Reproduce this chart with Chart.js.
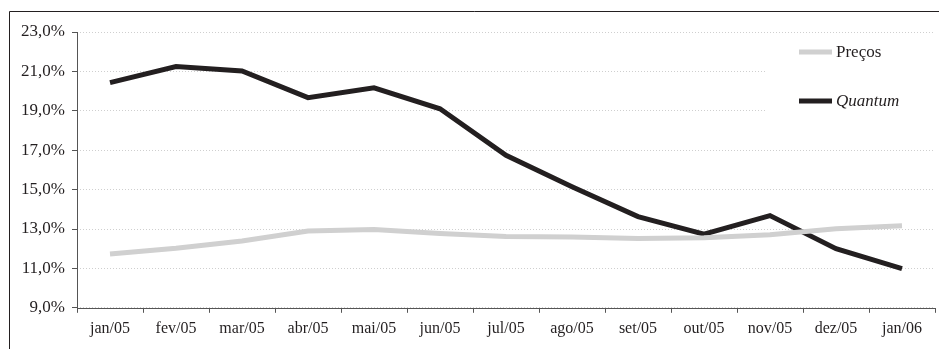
<!DOCTYPE html>
<html>
<head>
<meta charset="utf-8">
<script src="https://cdn.jsdelivr.net/npm/chart.js@4"></script>
<style>
  html, body { margin: 0; padding: 0; background: #fff; }
  #wrap { width: 939px; height: 349px; position: relative; }
</style>
</head>
<body>
<div id="wrap"><canvas id="chart" width="939" height="349"></canvas></div>
<script>
// dados
const meses = ['jan/05', 'fev/05', 'mar/05', 'abr/05', 'mai/05', 'jun/05', 'jul/05',
               'ago/05', 'set/05', 'out/05', 'nov/05', 'dez/05', 'jan/06'];
const precos = [11.73, 12.02, 12.39, 12.90, 12.98, 12.77, 12.62, 12.59, 12.52, 12.55, 12.71, 13.01, 13.16];
const quantum = [20.43, 21.25, 21.02, 19.67, 20.17, 19.10, 16.74, 15.15, 13.63, 12.74, 13.68, 12.00, 10.99];
const yTicks = [9, 11, 13, 15, 17, 19, 21, 23];

const serif = '"Liberation Serif", "DejaVu Serif", serif';

// moldura externa (só topo e esquerda aparecem) + eixos sólidos
const frame = {
  id: 'frame',
  afterDraw(chart) {
    const ctx = chart.ctx;
    const a = chart.chartArea;
    ctx.save();
    ctx.strokeStyle = '#231f20';
    ctx.lineWidth = 1;
    ctx.beginPath();
    ctx.moveTo(9.5, 349);
    ctx.lineTo(9.5, 11.5);
    ctx.lineTo(939, 11.5);
    ctx.stroke();
    ctx.strokeStyle = '#555';
    ctx.beginPath();
    ctx.moveTo(Math.round(a.left) + 0.5, a.top);
    ctx.lineTo(Math.round(a.left) + 0.5, Math.round(a.bottom) + 0.5);
    ctx.lineTo(a.right, Math.round(a.bottom) + 0.5);
    ctx.stroke();
    ctx.restore();
  }
};

// legenda dentro da área do gráfico, canto superior direito
const legendBox = {
  id: 'legendBox',
  afterDatasetsDraw(chart) {
    const ctx = chart.ctx;
    const ds = chart.data.datasets;
    ctx.save();
    ctx.fillStyle = '#fff';
    ctx.fillRect(767, 33, 168, 96);
    const rows = [52, 101];
    ds.forEach((d, i) => {
      ctx.strokeStyle = d.borderColor;
      ctx.lineWidth = d.borderWidth;
      ctx.beginPath();
      ctx.moveTo(799, rows[i]);
      ctx.lineTo(832, rows[i]);
      ctx.stroke();
      ctx.fillStyle = '#231f20';
      ctx.font = (i === 1 ? 'italic ' : '') + '17px ' + serif;
      ctx.textBaseline = 'middle';
      ctx.fillText(d.label, 836, rows[i] + 1);
    });
    ctx.restore();
  }
};

new Chart(document.getElementById('chart'), {
  type: 'line',
  data: {
    labels: meses,
    datasets: [
      {
        label: 'Preços',
        data: precos,
        borderColor: '#d0d0d0',
        borderWidth: 5,
        pointRadius: 0,
        tension: 0
      },
      {
        label: 'Quantum',
        data: quantum,
        borderColor: '#231f20',
        borderWidth: 5,
        pointRadius: 0,
        tension: 0
      }
    ]
  },
  options: {
    responsive: false,
    animation: false,
    layout: { padding: { left: 0, right: 4, top: 32, bottom: 5 } },
    plugins: {
      legend: { display: false },
      tooltip: { enabled: false }
    },
    scales: {
      x: {
        offset: true,
        grid: {
          display: true,
          offset: true,
          drawOnChartArea: false,
          drawTicks: true,
          tickLength: 5,
          color: '#555'
        },
        border: { display: false },
        ticks: {
          color: '#231f20',
          font: { family: serif, size: 16 },
          padding: 6,
          maxRotation: 0,
          autoSkip: false
        }
      },
      y: {
        min: 9,
        max: 23,
        afterBuildTicks(axis) {
          axis.ticks = yTicks.map(v => ({ value: v }));
        },
        afterFit(axis) { axis.width = 77; },
        grid: {
          color: '#cfcfcf',
          lineWidth: 1,
          drawTicks: true,
          tickLength: 5,
          tickColor: '#555',
          tickBorderDash: [],
          tickBorderDashOffset: 0
        },
        border: { display: false, dash: [1, 2] },
        ticks: {
          color: '#231f20',
          font: { family: serif, size: 17 },
          padding: 7,
          callback: v => v.toFixed(1).replace('.', ',') + '%'
        }
      }
    }
  },
  plugins: [frame, legendBox]
});
</script>
</body>
</html>
